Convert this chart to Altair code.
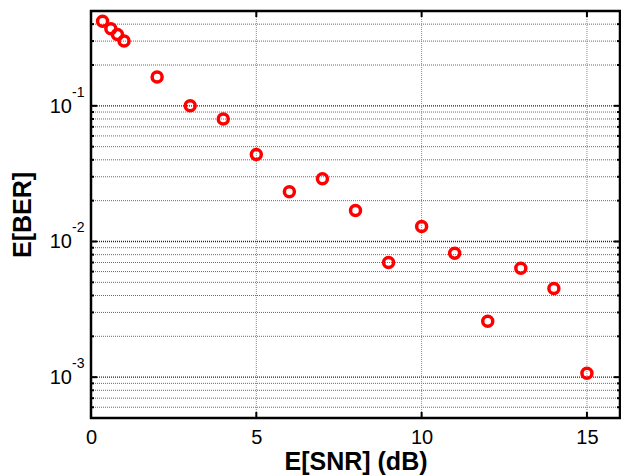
import altair as alt
import pandas as pd

# ---- data ----
snr = [0.35, 0.6, 0.8, 1.0, 2, 3, 4, 5, 6, 7, 8, 9, 10, 11, 12, 13, 14, 15]
ber = [0.42, 0.37, 0.336, 0.30, 0.163, 0.100, 0.080, 0.0437, 0.0233, 0.029,
       0.0169, 0.0070, 0.0129, 0.0082, 0.00258, 0.00634, 0.00451, 0.00107]

x_ticks = [0, 5, 10, 15]
x_grid = [5, 10, 15]
y_major = [0.001, 0.01, 0.1]
y_major_exp = ["-3", "-2", "-1"]
y_minor = [6e-4, 7e-4, 8e-4, 9e-4,
           2e-3, 3e-3, 4e-3, 5e-3, 6e-3, 7e-3, 8e-3, 9e-3,
           2e-2, 3e-2, 4e-2, 5e-2, 6e-2, 7e-2, 8e-2, 9e-2,
           0.2, 0.3, 0.4]

W, H = 529, 407
FONT = "Liberation Sans"

xs = alt.Scale(domain=[0, 16], nice=False, zero=False)
ys = alt.Scale(type="log", domain=[5e-4, 0.5], nice=False)

xaxis = alt.Axis(
    values=x_ticks, ticks=False, domain=False, grid=False,
    labelFont=FONT, labelFontSize=20, labelColor="black", labelPadding=9,
    labelFlush=False, labelOverlap=False,
    title="E[SNR] (dB)", titleFont=FONT, titleFontSize=25, titleFontWeight="bold",
    titleColor="black", titleX=W / 2, titleY=51, titleBaseline="alphabetic",
    titleAlign="center")
yaxis = alt.Axis(
    values=y_major, ticks=False, domain=False, grid=False, labels=False,
    title="E[BER]", titleFont=FONT, titleFontSize=25, titleFontWeight="bold",
    titleColor="black", titleX=-69, titleY=H / 2, titleAngle=-90,
    titleAlign="center", titleBaseline="middle")

pts = pd.DataFrame({"snr": snr, "ber": ber})
minor_df = pd.DataFrame({"v": y_minor})
major_df = pd.DataFrame({"v": y_major, "e": y_major_exp, "b": ["10"] * len(y_major)})
xgrid_df = pd.DataFrame({"x": x_grid})


def Y(field):
    return alt.Y(field, scale=ys, axis=yaxis)


def X(field):
    return alt.X(field, scale=xs, axis=xaxis)


hgrid_minor = alt.Chart(minor_df).mark_rule(
    color="#6a6a6a", strokeDash=[1, 1], strokeWidth=1
).encode(y=Y("v:Q"))

hgrid_major = alt.Chart(major_df).mark_rule(
    color="#222222", strokeDash=[1, 1], strokeWidth=1.4
).encode(y=Y("v:Q"))

vgrid = alt.Chart(xgrid_df).mark_rule(
    color="#8a8a8a", strokeDash=[1, 1], strokeWidth=1
).encode(x=X("x:Q"))

# inward ticks
tick_bottom = alt.Chart(xgrid_df).mark_rule(color="black", strokeWidth=2).encode(
    x=X("x:Q"), y=alt.value(H), y2=alt.value(H - 6))
tick_top = alt.Chart(xgrid_df).mark_rule(color="black", strokeWidth=2).encode(
    x=X("x:Q"), y=alt.value(0), y2=alt.value(6))
tick_l_major = alt.Chart(major_df).mark_rule(color="black", strokeWidth=2).encode(
    y=Y("v:Q"), x=alt.value(0), x2=alt.value(6))
tick_r_major = alt.Chart(major_df).mark_rule(color="black", strokeWidth=2).encode(
    y=Y("v:Q"), x=alt.value(W), x2=alt.value(W - 6))
tick_l_minor = alt.Chart(minor_df).mark_rule(color="black", strokeWidth=2).encode(
    y=Y("v:Q"), x=alt.value(0), x2=alt.value(3))
tick_r_minor = alt.Chart(minor_df).mark_rule(color="black", strokeWidth=2).encode(
    y=Y("v:Q"), x=alt.value(W), x2=alt.value(W - 3))

# y tick labels as 10 + superscript exponent
lab_base = alt.Chart(major_df).mark_text(
    align="right", baseline="middle", font=FONT, fontSize=20, color="black", dy=1
).encode(y=Y("v:Q"), x=alt.value(-19), text="b:N")
lab_exp = alt.Chart(major_df).mark_text(
    align="left", baseline="middle", font=FONT, fontSize=14, color="black", dy=-13
).encode(y=Y("v:Q"), x=alt.value(-19), text="e:N")

points = alt.Chart(pts).mark_point(
    shape="circle", filled=False, color="#ff0000", strokeWidth=3.5, size=100, opacity=1
).encode(x=X("snr:Q"), y=Y("ber:Q"))

chart = alt.layer(
    hgrid_minor, hgrid_major, vgrid,
    tick_bottom, tick_top, tick_l_major, tick_r_major, tick_l_minor, tick_r_minor,
    lab_base, lab_exp, points,
).properties(
    width=W, height=H,
    autosize=alt.AutoSizeParams(type="none"),
    padding={"left": 91, "top": 11, "right": 1, "bottom": 58},
).configure_view(stroke="black", strokeWidth=2.5)

chart.save("out.html", embed_options={"renderer": "svg", "actions": False})
